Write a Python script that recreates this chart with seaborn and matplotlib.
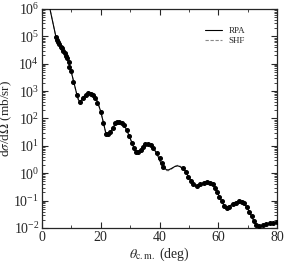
import numpy as np
import pandas as pd
import matplotlib
matplotlib.use("Agg")
import matplotlib.pyplot as plt
import matplotlib.ticker as mticker
import seaborn as sns

# RPA theory curve (deg, log10 dsigma/dOmega)
rpa_theta = [2.5, 3.5, 4.7, 5.6, 6.7, 7.8, 8.7, 9.5, 10.7, 11.8, 12.4, 12.9, 13.5, 14.1, 15.0, 15.8,
             16.5, 17.2, 18.1, 19.0, 20.0, 20.9, 21.6, 22.0, 22.6, 23.2, 24.3, 25.4, 26.0, 26.6,
             27.9, 28.8, 30.0, 31.3, 32.0, 32.6, 33.3, 34.0, 35.0, 35.8, 36.5, 37.4, 38.3, 39.1,
             40.2, 41.3, 42.3, 43.0, 44.0, 45.3, 46.2, 47.0, 48.0, 48.7, 49.8, 51.0, 52.0, 52.8,
             53.8, 54.9, 55.8, 56.6, 57.5, 58.6, 59.5, 60.1, 61.2, 62.0, 62.7, 63.4, 64.2, 65.7,
             66.8, 67.6, 68.8, 69.9, 71.1, 72.2, 73.0, 73.7, 74.5, 75.4, 76.5, 77.5, 78.8, 80.0]
rpa_log = [6.1, 5.6, 5.0, 4.8, 4.6, 4.38, 4.14, 3.9, 3.38, 2.9, 2.68, 2.62, 2.68, 2.79, 2.88, 2.93,
           2.93, 2.9, 2.8, 2.58, 2.25, 1.85, 1.52, 1.42, 1.42, 1.48, 1.70, 1.85, 1.88, 1.86,
           1.77, 1.58, 1.28, 0.92, 0.80, 0.76, 0.82, 0.93, 1.03, 1.07, 1.06, 0.98, 0.85, 0.72,
           0.43, 0.24, 0.13, 0.12, 0.17, 0.25, 0.27, 0.24, 0.16, 0.10, -0.12, -0.32, -0.45, -0.48,
           -0.43, -0.35, -0.32, -0.33, -0.38, -0.49, -0.65, -0.79, -1.03, -1.18, -1.25, -1.23, -1.17, -1.07,
           -1.03, -1.03, -1.09, -1.27, -1.52, -1.76, -1.88, -1.94, -1.95, -1.92, -1.88, -1.86, -1.84, -1.82]
# SHF theory curve (nearly identical to RPA)
shf_log = [6.1, 5.6, 5.0, 4.8, 4.6, 4.38, 4.14, 3.9, 3.38, 2.9, 2.68, 2.62, 2.68, 2.79, 2.88, 2.93,
           2.93, 2.9, 2.8, 2.58, 2.25, 1.85, 1.52, 1.42, 1.42, 1.48, 1.70, 1.85, 1.88, 1.86,
           1.77, 1.58, 1.28, 0.90, 0.76, 0.72, 0.79, 0.92, 1.03, 1.07, 1.06, 0.98, 0.85, 0.72,
           0.42, 0.21, 0.10, 0.09, 0.15, 0.25, 0.29, 0.26, 0.17, 0.10, -0.12, -0.32, -0.46, -0.50,
           -0.44, -0.35, -0.32, -0.33, -0.38, -0.49, -0.65, -0.79, -1.03, -1.19, -1.27, -1.25, -1.18, -1.07,
           -1.03, -1.03, -1.09, -1.27, -1.52, -1.77, -1.90, -1.97, -1.97, -1.93, -1.89, -1.86, -1.84, -1.82]

# experimental points
exp_theta = [4.67, 5.21, 5.55, 5.89, 6.37, 6.81, 7.25, 7.73, 8.17, 8.62, 9.09, 9.30, 9.88, 10.66,
             11.82, 12.94, 14.07, 14.99, 15.77, 16.59, 17.47, 18.05, 18.84, 19.99, 20.9, 21.8, 22.4,
             23.2, 24.1, 24.9, 25.6, 26.3, 27.1, 27.9, 28.8, 29.7, 30.5, 31.3, 32.0, 32.8, 33.7,
             34.5, 35.2, 36.2, 37.0, 37.9, 39.1, 40.0, 40.8, 41.3, 48.1, 49.0, 49.8, 50.6, 51.5,
             52.7, 53.8, 55.2, 56.1, 57.2, 58.1, 58.9, 59.7, 60.4, 61.2, 62.0, 62.9, 63.8, 64.9,
             66.1, 67.2, 68.0, 68.8, 69.7, 70.6, 71.4, 72.2, 72.9, 74.0, 75.2, 76.3, 77.7, 78.8, 80.0]
exp_log = [4.99, 4.87, 4.78, 4.71, 4.62, 4.57, 4.48, 4.38, 4.28, 4.20, 4.08, 3.89, 3.74, 3.32,
           2.84, 2.62, 2.74, 2.86, 2.92, 2.90, 2.84, 2.74, 2.56, 2.25, 1.83, 1.43, 1.43,
           1.49, 1.65, 1.83, 1.86, 1.86, 1.85, 1.77, 1.58, 1.36, 1.10, 0.92, 0.79, 0.77, 0.85,
           0.97, 1.05, 1.06, 1.02, 0.92, 0.73, 0.55, 0.37, 0.24, 0.19, 0.03, -0.12, -0.28, -0.39,
           -0.46, -0.40, -0.34, -0.33, -0.34, -0.40, -0.54, -0.70, -0.85, -1.03, -1.19, -1.27, -1.22, -1.13,
           -1.07, -1.03, -1.04, -1.09, -1.22, -1.40, -1.58, -1.76, -1.88, -1.92, -1.90, -1.86, -1.82, -1.80, -1.78]

sns.set_style("ticks")
plt.rcParams['font.family'] = ['Liberation Serif', 'DejaVu Serif']
plt.rcParams['mathtext.fontset'] = 'stix'

fig = plt.figure(figsize=(2.85, 2.62), dpi=100)
ax = fig.add_axes([0.1474, 0.1298, 0.8246, 0.836])

df_rpa = pd.DataFrame({'theta': rpa_theta, 'y': 10 ** np.array(rpa_log)})
df_shf = pd.DataFrame({'theta': rpa_theta, 'y': 10 ** np.array(shf_log)})
df_exp = pd.DataFrame({'theta': exp_theta, 'y': 10 ** np.array(exp_log)})

sns.lineplot(data=df_shf, x='theta', y='y', ax=ax, color='#8a8a8a', lw=0.8,
             linestyle=(0, (3, 1.5)), label='SHF', sort=False, zorder=2)
sns.lineplot(data=df_rpa, x='theta', y='y', ax=ax, color='black', lw=0.8,
             label='RPA', sort=False, zorder=3)
ax.plot(df_exp['theta'], df_exp['y'], 'o', color='black', ms=2.6, zorder=4)

ax.set_yscale('log')
ax.set_xlim(0, 80)
ax.set_ylim(1e-2, 1e6)
ax.xaxis.set_major_locator(mticker.MultipleLocator(20))
ax.xaxis.set_minor_locator(mticker.MultipleLocator(10))
ax.yaxis.set_major_locator(mticker.LogLocator(base=10, numticks=20))
ax.yaxis.set_minor_locator(mticker.LogLocator(base=10, subs=np.arange(2, 10), numticks=20))
ax.yaxis.set_major_formatter(mticker.LogFormatterMathtext())
ax.yaxis.set_minor_formatter(mticker.NullFormatter())
ax.tick_params(which='both', direction='in', top=True, right=True, labelsize=10, pad=2)
ax.tick_params(which='major', length=4, width=0.8)
ax.tick_params(which='minor', length=2, width=0.6)
for s in ax.spines.values():
    s.set_linewidth(0.9)
    s.set_visible(True)

ax.set_xlabel(r'$\theta_{\rm c.m.}$ (deg)', fontsize=10, labelpad=1)
ax.set_ylabel(r'd$\sigma$/d$\Omega$ (mb/sr)', fontsize=9.5)
ax.yaxis.set_label_coords(-0.118, 0.5)

h, l = ax.get_legend_handles_labels()
order = [l.index('RPA'), l.index('SHF')]
ax.legend([h[i] for i in order], [l[i] for i in order], loc='upper right',
          bbox_to_anchor=(0.90, 0.955), frameon=False, fontsize=6.5,
          handlelength=1.8, handletextpad=0.8, labelspacing=0.15)

fig.savefig('out.png', dpi=100)
